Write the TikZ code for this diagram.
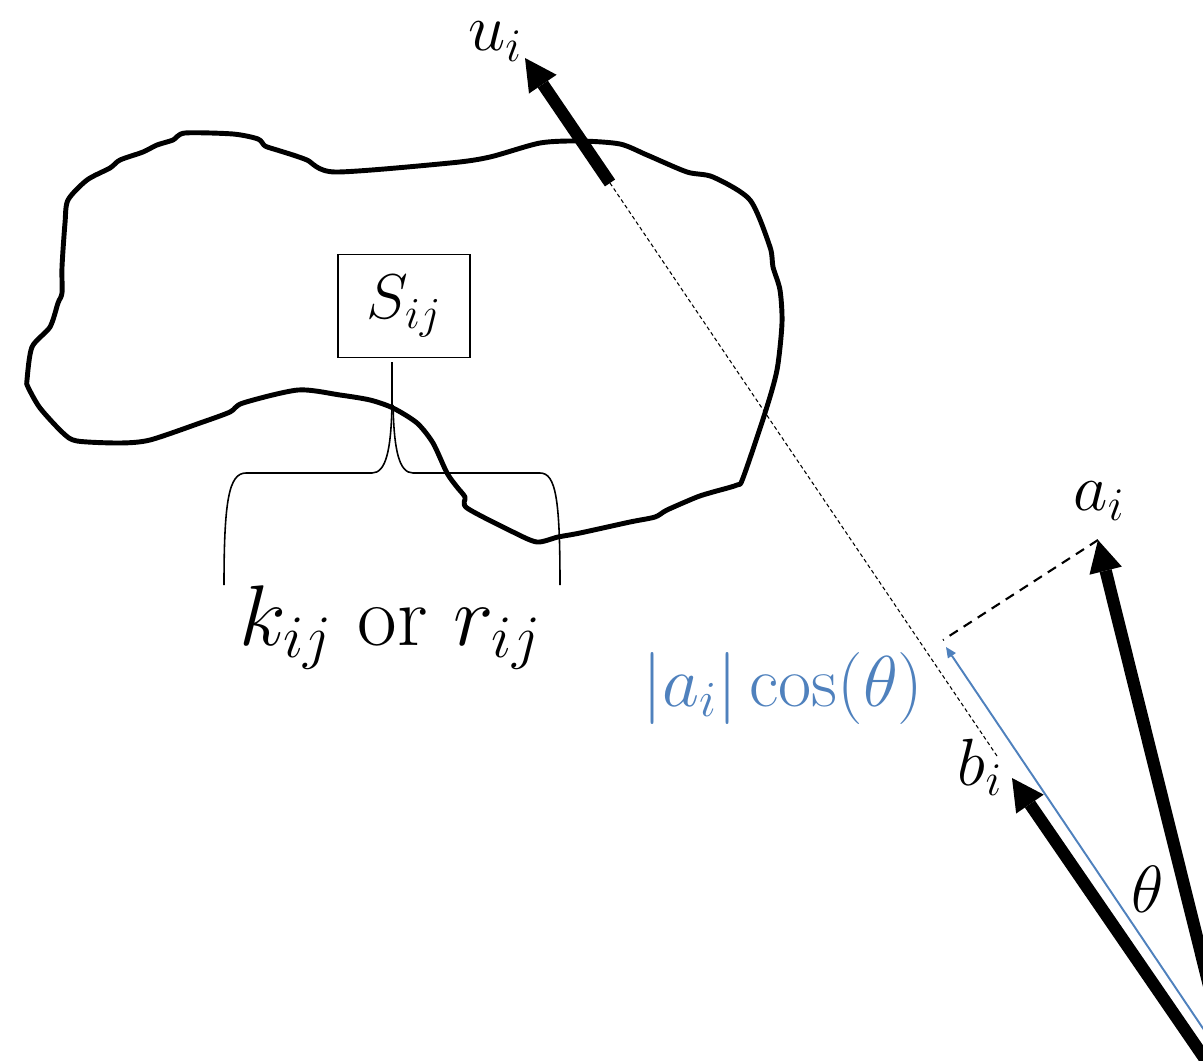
\RequirePackage{fix-cm}
\documentclass[tikz,border=0pt]{standalone}
\usepackage{amsmath,amssymb}
\usepackage{tikz}
\usetikzlibrary{positioning,calc}
\usetikzlibrary{arrows.meta}
\definecolor{ProjBlue}{RGB}{79,129,189}
\tikzset{
	vec/.style={draw=black,line width=7pt,-{Triangle[length=18pt,width=19pt,line width=0pt]}},
	projvec/.style={draw=ProjBlue,line width=1.1pt,-{Triangle[length=6pt,width=5.5pt,line width=0pt]}},
	guide/.style={draw=black,line width=0.6pt,dash pattern=on 2.2pt off 1.6pt},
	drop/.style={draw=black,line width=1.2pt,dash pattern=on 5.5pt off 4pt},
	blob/.style={draw=black,line width=2.8pt,line join=round},
	curly/.style={draw=black,line width=0.9pt},
	lbl/.style={anchor=base,inner sep=0pt,font=\fontsize{38}{44}\selectfont},
	setbox/.style={draw=black,line width=0.8pt,minimum width=2.64cm,minimum height=2.06cm,
		inner sep=0pt,font=\fontsize{36}{42}\selectfont},
}

\begin{document}
\begin{tikzpicture}[x=0.02cm,y=-0.02cm]
	\useasboundingbox (0,0) rectangle (1203,1061);
	\clip (0,0) rectangle (1203,1061);
	% end points of the vectors
	\coordinate (O) at (1240,1110);
	\coordinate (Ob) at (1258,1110);
	\coordinate (atip) at (1098,540);
	\coordinate (btip) at (1012,778);
	\coordinate (ptip) at (946,647);
	\coordinate (pfoot) at (943,640);
	\coordinate (dotend) at (997,756);
	\coordinate (ubase) at (610,183);
	\coordinate (utip) at (525,58);
	% the region
	\draw[blob] plot[smooth cycle,tension=0.45] coordinates {
		(185,133) (233,134) (258,139) (265,146) (277,150) (293,155) (307,160)
		(335,172) (450,163) (490,157) (540,143) (580,141) (620,144) (647,155)
		(687,172) (713,177) (750,200) (770,247) (773,267) (780,290) (782,323)
		(777,370) (765,413) (743,478) (737,485) (713,492) (697,497) (667,510)
		(655,517) (630,522) (580,533) (558,537) (537,542) (513,532) (467,508)
		(465,497) (457,487) (447,473) (433,443) (417,423) (393,408) (370,400)
		(340,395) (298,390) (243,403) (230,412) (200,423) (150,440) (120,443)
		(77,441) (63,433) (40,408) (28,387) (27,380) (32,347) (50,327)
		(58,303) (62,293) (62,267) (65,223) (68,200) (87,180) (110,168)
		(120,160) (143,152) (157,145) (173,140)};
	% vectors
	\draw[guide] (dotend) -- (ubase);
	\draw[drop] (atip) -- (pfoot);
	\draw[vec] (O) -- (atip);
	\draw[vec] (O) -- (btip);
	\draw[vec] (ubase) -- (utip);
	\draw[projvec] (Ob) -- (ptip);
	% labels
	\node[lbl] (ui) at (495,51) {$u_i$};
	\node[lbl] (ai) at (1099,510) {$a_i$};
	\node[lbl] (bi) at (980,785) {$b_i$};
	\node[lbl] (th) at (1148,912) {$\theta$};
	\node[lbl,text=ProjBlue,font=\fontsize{41}{48}\selectfont] (proj) at (783,706) {$|a_i|\cos(\theta)$};
	\node[setbox] (Sij) at (404,306) {$S_{ij}$};
	\node[lbl,font=\fontsize{49}{56}\selectfont] (kr) at (390,645) {$k_{ij}$ or $r_{ij}$};
	% brace under the box
	\coordinate (stem) at ($(Sij.south)+(-12,4)$);
	\draw[curly] (stem) -- (392,405) .. controls (391,450) and (386,473) .. (372,473)
		-- (246,473) .. controls (229,473) and (224,500) .. (224,585);
	\draw[curly] (393,405) .. controls (394,450) and (399,473) .. (413,473)
		-- (540,473) .. controls (556,473) and (560,500) .. (560,585);
\end{tikzpicture}
\end{document}
